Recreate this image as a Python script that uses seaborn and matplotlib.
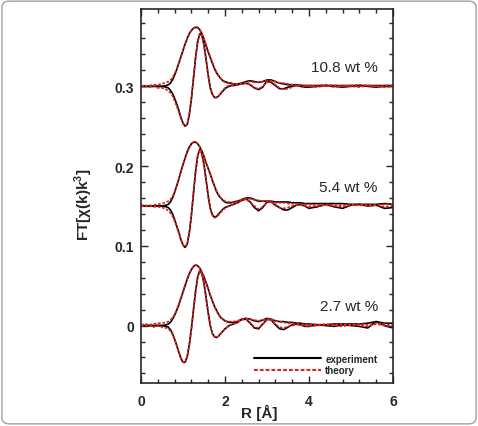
import numpy as np
import pandas as pd
import seaborn as sns
import matplotlib.pyplot as plt
from matplotlib.lines import Line2D
from matplotlib.patches import FancyBboxPatch
from matplotlib.ticker import MultipleLocator

# R grid (Å), shared by all curves
r = [0.0, 0.1, 0.2, 0.3, 0.4, 0.5,
     0.6, 0.65, 0.7, 0.75, 0.8, 0.85, 0.9, 0.95, 1.0, 1.05,
     1.1, 1.15, 1.2, 1.25, 1.3, 1.35, 1.4, 1.45, 1.5, 1.55,
     1.6, 1.65, 1.7, 1.75, 1.8, 1.85, 1.9, 1.95, 2.0, 2.05,
     2.1, 2.15, 2.2,
     2.3, 2.4, 2.5, 2.6, 2.7, 2.8, 2.9, 3.0, 3.1, 3.2,
     3.3, 3.4, 3.5, 3.6, 3.7, 3.8, 3.9, 4.0,
     4.2, 4.4, 4.6, 4.8, 5.0, 5.2, 5.4, 5.6, 5.8, 6.0]

loadings = ['10.8 wt %', '5.4 wt %', '2.7 wt %']
offsets = [0.3, 0.15, 0.0]

# 10.8 wt %
mag_exp_108 = [0.000, 0.000, 0.000, 0.000, 0.000, 0.000,
               0.001, 0.002, 0.004, 0.008, 0.014, 0.021, 0.029, 0.037, 0.045, 0.053,
               0.060, 0.066, 0.070, 0.073, 0.074, 0.074, 0.071, 0.066, 0.059, 0.051,
               0.043, 0.036, 0.029, 0.022, 0.017, 0.013, 0.010, 0.007, 0.006, 0.005,
               0.004, 0.004, 0.003,
               0.003, 0.004, 0.006, 0.007, 0.006, 0.005, 0.006, 0.008, 0.008, 0.006,
               0.004, 0.003, 0.002, 0.002, 0.002, 0.001, 0.001, 0.001,
               0.001, 0.001, 0.001, 0.001, 0.001, 0.001, 0.001, 0.001, 0.001, 0.001]
im_exp_108 = [0.000, 0.000, 0.000, 0.000, 0.000, 0.000,
              -0.001, -0.002, -0.005, -0.009, -0.015, -0.022, -0.030, -0.039, -0.046, -0.050,
              -0.048, -0.036, -0.016, 0.010, 0.036, 0.056, 0.066, 0.064, 0.052, 0.034,
              0.014, -0.002, -0.010, -0.014, -0.014, -0.012, -0.009, -0.006, -0.003, -0.001,
              0.000, 0.001, 0.001,
              0.002, 0.003, 0.004, 0.002, -0.002, -0.004, -0.001, 0.007, 0.005, 0.001,
              -0.003, -0.003, -0.001, 0.000, 0.001, 0.000, -0.001, -0.001,
              0.000, 0.001, 0.000, -0.001, 0.000, 0.001, 0.000, -0.001, 0.000, 0.000]
mag_th_108 = [0.001, 0.000, 0.001, 0.002, 0.002, 0.003,
              0.005, 0.006, 0.008, 0.011, 0.016, 0.022, 0.029, 0.037, 0.045, 0.053,
              0.060, 0.066, 0.070, 0.073, 0.074, 0.073, 0.071, 0.066, 0.060, 0.052,
              0.044, 0.037, 0.030, 0.023, 0.018, 0.013, 0.010, 0.007, 0.005, 0.004,
              0.004, 0.003, 0.003,
              0.003, 0.004, 0.005, 0.006, 0.005, 0.005, 0.006, 0.007, 0.007, 0.006,
              0.004, 0.004, 0.003, 0.002, 0.001, 0.002, 0.001, 0.000,
              0.001, 0.002, 0.001, 0.000, 0.001, 0.002, 0.001, 0.000, 0.001, 0.001]
im_th_108 = [-0.001, 0.001, -0.001, 0.001, -0.002, -0.002,
             -0.004, -0.006, -0.008, -0.012, -0.018, -0.025, -0.032, -0.040, -0.047, -0.050,
             -0.047, -0.035, -0.015, 0.011, 0.037, 0.056, 0.066, 0.063, 0.051, 0.033,
             0.013, -0.002, -0.010, -0.014, -0.014, -0.012, -0.008, -0.005, -0.002, 0.000,
             0.001, 0.001, 0.002,
             0.002, 0.003, 0.004, 0.002, -0.002, -0.003, 0.000, 0.005, 0.006, 0.002,
             -0.002, -0.004, -0.003, -0.001, 0.001, 0.000, -0.001, 0.001,
             -0.001, 0.001, -0.001, 0.001, 0.000, -0.001, 0.001, 0.000, -0.001, 0.000]

# 5.4 wt %
mag_exp_54 = [0.000, 0.000, 0.000, 0.000, 0.000, 0.000,
              0.001, 0.002, 0.005, 0.010, 0.017, 0.025, 0.034, 0.043, 0.052, 0.060,
              0.068, 0.074, 0.078, 0.080, 0.080, 0.078, 0.074, 0.069, 0.062, 0.054,
              0.047, 0.040, 0.032, 0.025, 0.018, 0.013, 0.010, 0.007, 0.005, 0.004,
              0.004, 0.004, 0.005,
              0.006, 0.008, 0.010, 0.010, 0.008, 0.006, 0.006, 0.006, 0.006, 0.005,
              0.005, 0.005, 0.005, 0.004, 0.004, 0.004, 0.003, 0.003,
              0.003, 0.003, 0.003, 0.003, 0.002, 0.002, 0.002, 0.002, 0.003, 0.002]
im_exp_54 = [0.000, 0.000, 0.000, 0.000, 0.000, 0.000,
             -0.001, -0.002, -0.005, -0.010, -0.017, -0.025, -0.033, -0.042, -0.049, -0.052,
             -0.048, -0.034, -0.012, 0.016, 0.043, 0.063, 0.071, 0.066, 0.052, 0.033,
             0.013, -0.003, -0.011, -0.014, -0.013, -0.010, -0.007, -0.004, -0.002, -0.001,
             0.000, 0.001, 0.002,
             0.004, 0.007, 0.009, 0.005, -0.002, -0.006, -0.002, 0.005, 0.005, 0.001,
             -0.002, -0.005, -0.005, -0.002, 0.001, 0.002, 0.000, -0.003,
             -0.001, 0.002, -0.001, -0.003, 0.001, 0.002, 0.000, 0.001, -0.003, -0.002]
mag_th_54 = [0.001, 0.001, 0.000, 0.001, 0.002, 0.003,
             0.005, 0.006, 0.008, 0.012, 0.018, 0.025, 0.034, 0.043, 0.052, 0.060,
             0.067, 0.073, 0.077, 0.080, 0.080, 0.078, 0.074, 0.069, 0.062, 0.054,
             0.047, 0.040, 0.032, 0.025, 0.019, 0.014, 0.010, 0.008, 0.006, 0.005,
             0.005, 0.005, 0.005,
             0.006, 0.008, 0.009, 0.009, 0.008, 0.007, 0.006, 0.006, 0.005, 0.004,
             0.004, 0.004, 0.003, 0.003, 0.002, 0.002, 0.002, 0.002,
             0.001, 0.002, 0.001, 0.001, 0.002, 0.001, 0.002, 0.001, 0.002, 0.002]
im_th_54 = [0.000, -0.001, 0.001, -0.001, -0.001, -0.002,
            -0.004, -0.006, -0.009, -0.013, -0.019, -0.026, -0.034, -0.042, -0.049, -0.051,
            -0.047, -0.033, -0.011, 0.017, 0.044, 0.063, 0.071, 0.065, 0.051, 0.032,
            0.012, -0.004, -0.012, -0.015, -0.014, -0.011, -0.008, -0.005, -0.003, -0.001,
            0.000, 0.001, 0.002,
            0.004, 0.007, 0.008, 0.005, 0.000, -0.004, -0.001, 0.004, 0.005, 0.002,
            -0.002, -0.003, -0.002, 0.000, 0.001, 0.001, 0.000, -0.001,
            0.000, 0.001, 0.000, -0.001, 0.001, 0.001, 0.000, 0.001, -0.001, 0.000]

# 2.7 wt %
mag_exp_27 = [0.000, 0.000, 0.000, 0.000, 0.000, 0.000,
              0.001, 0.002, 0.004, 0.008, 0.013, 0.019, 0.026, 0.034, 0.042, 0.050,
              0.058, 0.065, 0.070, 0.074, 0.076, 0.075, 0.072, 0.067, 0.061, 0.054,
              0.046, 0.038, 0.031, 0.024, 0.019, 0.014, 0.010, 0.008, 0.006, 0.005,
              0.004, 0.004, 0.004,
              0.005, 0.008, 0.009, 0.008, 0.006, 0.005, 0.007, 0.009, 0.008, 0.006,
              0.005, 0.005, 0.004, 0.004, 0.003, 0.003, 0.002, 0.002,
              0.001, 0.001, 0.002, 0.002, 0.002, 0.002, 0.003, 0.005, 0.003, 0.003]
im_exp_27 = [0.000, 0.000, 0.000, 0.000, 0.000, 0.000,
             -0.001, -0.002, -0.005, -0.010, -0.017, -0.025, -0.033, -0.041, -0.046, -0.046,
             -0.039, -0.024, -0.004, 0.020, 0.043, 0.061, 0.069, 0.065, 0.053, 0.035,
             0.016, 0.000, -0.010, -0.014, -0.015, -0.013, -0.010, -0.007, -0.004, -0.002,
             0.000, 0.001, 0.002,
             0.004, 0.008, 0.008, 0.003, -0.003, -0.004, 0.002, 0.008, 0.007, 0.001,
             -0.004, -0.005, -0.002, 0.001, 0.002, 0.001, -0.001, -0.001,
             0.001, 0.000, -0.001, 0.001, 0.000, -0.001, -0.003, 0.005, 0.000, -0.003]
mag_th_27 = [0.001, 0.002, 0.001, 0.002, 0.003, 0.003,
             0.004, 0.005, 0.007, 0.010, 0.014, 0.020, 0.027, 0.035, 0.043, 0.051,
             0.059, 0.065, 0.071, 0.074, 0.076, 0.075, 0.072, 0.067, 0.061, 0.054,
             0.046, 0.038, 0.031, 0.024, 0.018, 0.014, 0.010, 0.008, 0.006, 0.005,
             0.005, 0.005, 0.005,
             0.006, 0.008, 0.009, 0.008, 0.007, 0.006, 0.007, 0.008, 0.008, 0.006,
             0.005, 0.004, 0.003, 0.003, 0.002, 0.002, 0.001, 0.002,
             0.001, 0.002, 0.001, 0.002, 0.001, 0.002, 0.001, 0.003, 0.002, 0.001]
im_th_27 = [0.000, -0.001, 0.001, -0.002, 0.001, -0.002,
            -0.003, -0.004, -0.007, -0.011, -0.017, -0.025, -0.033, -0.041, -0.046, -0.047,
            -0.040, -0.025, -0.005, 0.019, 0.042, 0.060, 0.069, 0.065, 0.053, 0.035,
            0.016, 0.000, -0.010, -0.014, -0.015, -0.013, -0.010, -0.007, -0.004, -0.002,
            0.000, 0.001, 0.002,
            0.004, 0.007, 0.008, 0.004, -0.002, -0.003, 0.002, 0.007, 0.007, 0.002,
            -0.002, -0.003, -0.001, 0.000, 0.001, 0.001, 0.000, -0.001,
            0.000, 0.001, 0.000, -0.001, 0.001, 0.000, -0.001, 0.002, 0.000, -0.001]

curves = {
    '10.8 wt %': {'experiment': (mag_exp_108, im_exp_108), 'theory': (mag_th_108, im_th_108)},
    '5.4 wt %': {'experiment': (mag_exp_54, im_exp_54), 'theory': (mag_th_54, im_th_54)},
    '2.7 wt %': {'experiment': (mag_exp_27, im_exp_27), 'theory': (mag_th_27, im_th_27)},
}

frames = []
for name, off in zip(loadings, offsets):
    for kind, (mag, im) in curves[name].items():
        for part, vals in (('mag', mag), ('im', im)):
            frames.append(pd.DataFrame({'R': r, 'FT': np.array(vals) + off,
                                        'panel': name, 'kind': kind, 'part': part}))
df = pd.concat(frames, ignore_index=True)

sns.set_style('ticks')
plt.rcParams['font.family'] = ['Liberation Sans', 'DejaVu Sans']
plt.rcParams['mathtext.fontset'] = 'custom'
plt.rcParams['mathtext.rm'] = 'Liberation Sans'
plt.rcParams['mathtext.bf'] = 'Liberation Sans:bold'

fig = plt.figure(figsize=(4.78, 4.27), dpi=100)
ax = fig.add_axes([0.295, 0.1007, 0.527, 0.8759])

red = '#e0201c'
lw = 1.2
# experiment first, theory drawn on top
for kind, color, dash in (('experiment', 'black', None), ('theory', red, (1.6, 1.0))):
    for (name, part), g in df[df['kind'] == kind].groupby(['panel', 'part'], sort=False):
        sns.lineplot(data=g, x='R', y='FT', color=color, lw=lw, ax=ax,
                     estimator=None, sort=False, legend=False)
        if dash is not None:
            ax.lines[-1].set_dashes(dash)

for name, off in zip(loadings, offsets):
    ax.text(5.64, off + 0.024, name, ha='right', va='center', fontsize=11)

ax.set_xlim(0, 6)
ax.set_ylim(-0.072, 0.397)
ax.set_xticks([0, 2, 4, 6])
ax.set_yticks([0, 0.1, 0.2, 0.3], ['0', '0.1', '0.2', '0.3'])
ax.xaxis.set_minor_locator(MultipleLocator(0.4))
ax.yaxis.set_minor_locator(MultipleLocator(0.02))
ax.tick_params(which='both', direction='in', top=True, right=True, width=1.0)
ax.tick_params(which='major', length=5)
ax.tick_params(which='minor', length=3)
ax.tick_params(axis='x', pad=8)
ax.tick_params(axis='y', pad=5)
for lab in ax.get_xticklabels() + ax.get_yticklabels():
    lab.set_fontweight('bold')
    lab.set_fontsize(10)
for sp in ax.spines.values():
    sp.set_linewidth(1.2)

ax.set_xlabel('R [Å]', fontsize=11, fontweight='bold')
ax.set_ylabel('FT[χ(k)k$^{\\mathbf{3}}$]', fontsize=11, fontweight='bold')
ax.xaxis.set_label_coords(0.468, -0.056)
ax.yaxis.set_label_coords(-0.183, 0.479)

handles = [Line2D([], [], color='black', lw=1.5),
           Line2D([], [], color=red, lw=1.5, dashes=(1.8, 1.0))]
ax.legend(handles, ['experiment', 'theory'], loc='upper left',
          bbox_to_anchor=(0.448, 0.078), frameon=False, borderpad=0, borderaxespad=0,
          handlelength=6.9, handletextpad=0.45, labelspacing=0.12,
          prop={'weight': 'bold', 'size': 7})

fig.patches.append(FancyBboxPatch((0.004, 0.005), 0.992, 0.99,
                                  boxstyle='round,pad=0,rounding_size=0.015',
                                  transform=fig.transFigure, fill=False,
                                  ec='#a0a0a0', lw=1.0))

fig.savefig('out.png', dpi=100)
